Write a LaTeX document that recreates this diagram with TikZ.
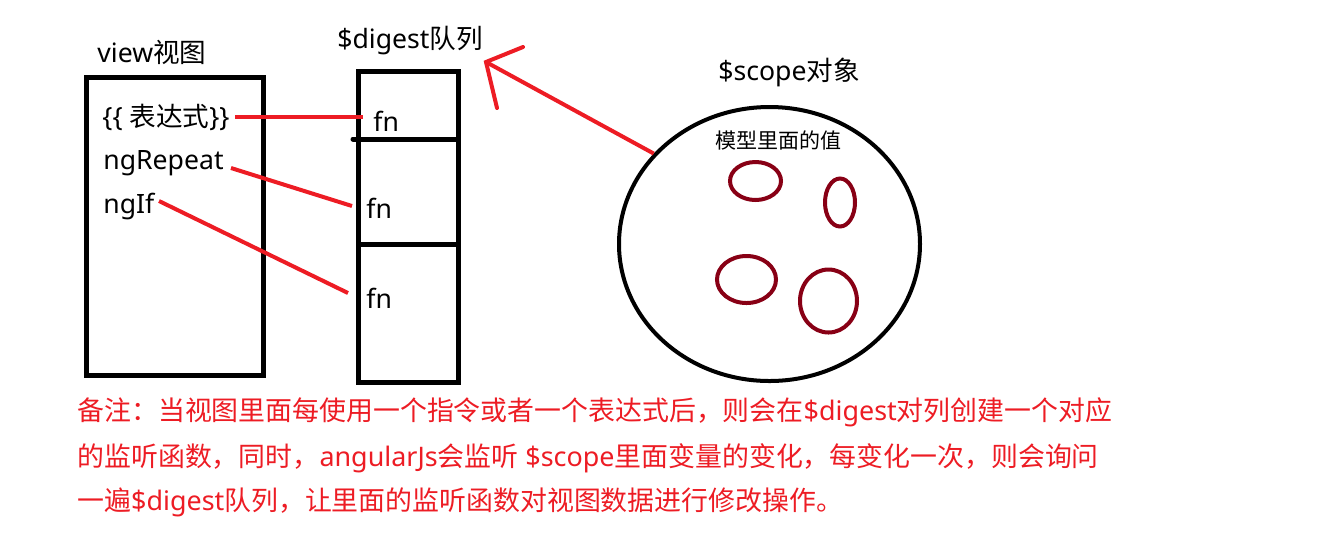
\documentclass[tikz,border=0pt]{standalone}
\usepackage{fontspec}
\setmainfont{Noto Sans CJK SC}
\newfontfamily\lat{Noto Sans}
\usetikzlibrary{shapes.geometric}
\definecolor{pred}{RGB}{237,28,36}
\definecolor{dred}{RGB}{136,0,21}
\tikzset{
  lbl/.style={anchor=west, inner sep=0pt, font=\fontsize{13.3}{15}\selectfont},
  small/.style={anchor=west, inner sep=0pt, font=\fontsize{10.5}{12}\selectfont},
  note/.style={anchor=west, inner sep=0pt, text=pred, font=\fontsize{13.45}{15}\selectfont},
  box/.style={draw=black, line width=2.5pt},
  link/.style={draw=pred, line width=2pt},
  blob/.style={draw=dred, line width=2pt, ellipse, inner sep=0pt},
}
\begin{document}
\begin{tikzpicture}[x=0.5pt, y=-0.5pt]
\useasboundingbox (0,0) rectangle (1323,538);
% view box
\draw[box] (86,77) rectangle (263,375);
\node[lbl] (viewlbl) at (97,52) {{\lat view}视图};
\node[lbl] (expr) at (102,117.5) {{\lat\{\{ }表达式{\lat\}\}}};
\node[lbl] (ngrepeat) at (103,163) {\lat ngRepeat};
\node[lbl] (ngif) at (103,207) {\lat ngIf};
% digest column
\draw[box] (358,71) rectangle (458,382);
\draw[box, line cap=round] (353,139) -- (458,139);
\draw[box] (358,244) -- (458,244);
\node[lbl] (digestlbl) at (337,41) {{\lat\$digest}队列};
\node[lbl] (fn1) at (373,121) {\lat fn};
\node[lbl] (fn2) at (366,208) {\lat fn};
\node[lbl] (fn3) at (366,298.5) {\lat fn};
% scope circle
\node[draw=black, line width=2pt, ellipse, inner sep=0pt,
      minimum width=150.5pt, minimum height=137pt] (scope) at (769.5,244) {};
\node[lbl] (scopelbl) at (718,72) {{\lat\$scope}对象};
\node[small] (vals) at (715,140) {模型里面的值};
\node[blob, minimum width=25.5pt, minimum height=19pt] (v1) at (755.5,181) {};
\node[blob, minimum width=15pt, minimum height=24pt] (v2) at (840,202.5) {};
\node[blob, minimum width=29.5pt, minimum height=23.5pt] (v3) at (746.5,279.5) {};
\node[blob, minimum width=28.5pt, minimum height=31.5pt] (v4) at (828.5,301) {};
% links
\coordinate (a1) at (235,117);
\coordinate (b1) at (363,117);
\coordinate (a2) at (231,168);
\coordinate (b2) at (352,206);
\coordinate (a3) at (159,201);
\coordinate (b3) at (348,293);
\draw[link] (a1) -- (b1);
\draw[link] (a2) -- (b2);
\draw[link] (a3) -- (b3);
% arrow
\coordinate (tip) at (486,62);
\coordinate (w1) at (523,47);
\coordinate (w2) at (497,108);
\draw[link] (scope.142) -- (tip);
\draw[link, line cap=round] (w1) -- (tip) -- (w2);
% note
\node[note] (note1) at (77,412.5) {备注：当视图里面每使用一个指令或者一个表达式后，则会在{\lat\$digest}对列创建一个对应};
\node[note] (note2) at (77,458.5) {的监听函数，同时，{\lat angularJs}会监听{\lat\ \$scope}里面变量的变化，每变化一次，则会询问};
\node[note] (note3) at (77,502) {一遍{\lat\$digest}队列，让里面的监听函数对视图数据进行修改操作。};
\end{tikzpicture}
\end{document}
